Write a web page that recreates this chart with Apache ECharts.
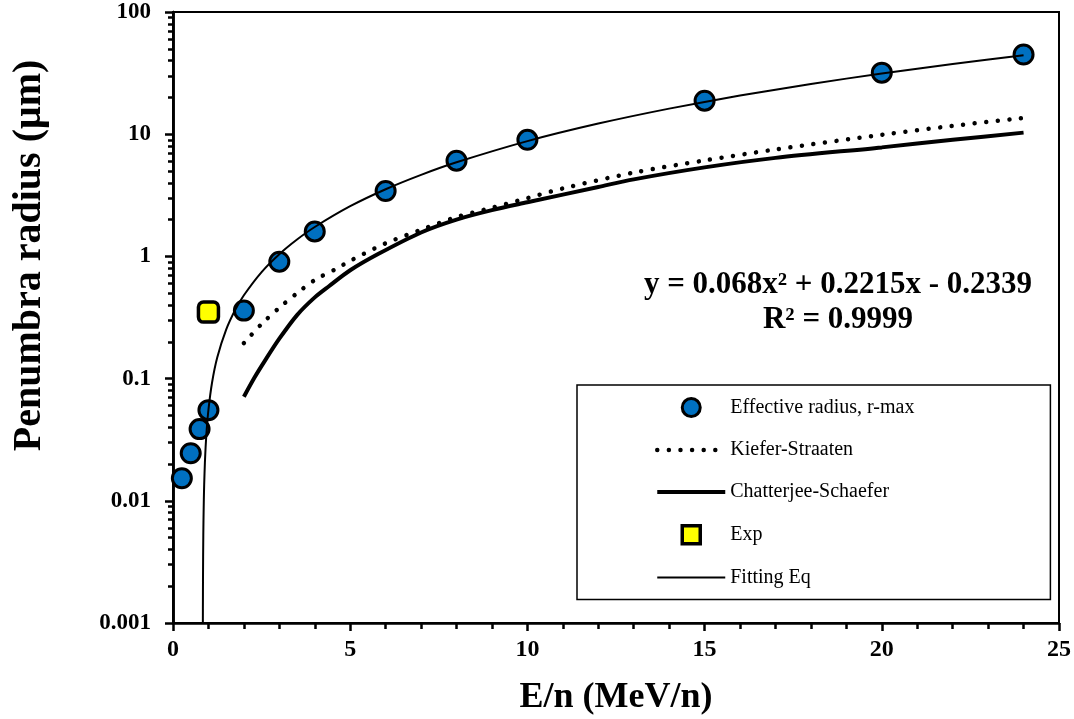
<!DOCTYPE html>
<html>
<head>
<meta charset="utf-8">
<script src="https://cdn.jsdelivr.net/npm/echarts@6/dist/echarts.min.js"></script>
<style>
  html, body { margin: 0; padding: 0; background: #fff; }
  #chart { width: 1074px; height: 719px; }
</style>
</head>
<body>
<div id="chart"></div>
<script>
// Effective radius (r-max) versus energy per nucleon
const effX = [0.25, 0.5, 0.75, 1, 2, 3, 4, 6, 8, 10, 15, 20, 24];
const effY = [0.0153, 0.0245, 0.0386, 0.0552, 0.36, 0.905, 1.6, 3.43, 6.07, 9.0, 18.8, 31.9, 44.9];

// Kiefer-Straaten penumbra radius
const ksX = [2, 2.5, 3, 3.5, 4, 4.6, 5, 6, 7, 8, 9, 10, 11, 13, 15, 17, 20, 22, 24];
const ksY = [0.195, 0.28, 0.38, 0.5, 0.64, 0.79, 0.92, 1.28, 1.65, 2.1, 2.5, 3.0, 3.6, 4.85, 6.1, 7.5, 9.9, 11.7, 13.6];

// Chatterjee-Schaefer penumbra radius
const csX = [2, 2.3, 2.6, 3, 3.5, 4, 4.4, 5, 5.8, 7, 8, 9, 10, 12, 13, 15, 17, 20, 22, 24];
const csY = [0.071, 0.102, 0.141, 0.212, 0.331, 0.462, 0.57, 0.77, 1.05, 1.57, 2.0, 2.39, 2.77, 3.7, 4.27, 5.35, 6.4, 7.8, 9.0, 10.3];

// Experimental point
const expX = [1];
const expY = [0.35];

// Quadratic trendline y = a x^2 + b x + c, sampled from its root upward
const fitCoefficients = [0.068, 0.2215, -0.2339];
const fitR2 = '0.9999';
const fitX = [0.8426, 0.843, 0.844, 0.846, 0.85, 0.855, 0.86, 0.87, 0.88, 0.9, 0.92, 0.95, 1, 1.1, 1.25, 1.5, 1.75, 2, 2.5, 3, 3.5, 4, 5, 6, 7, 8, 10, 12, 14, 16, 18, 20, 22, 24];

// Axis tick values
const xTicks = [0, 5, 10, 15, 20, 25];
const yTickLabels = ['0.001', '0.01', '0.1', '1', '10', '100'];

const pairs = (xs, ys) => xs.map((x, i) => [x, ys[i]]);
const fitY = fitX.map(x => fitCoefficients[0] * x * x + fitCoefficients[1] * x + fitCoefficients[2]);

// minor ticks at 1..9 of every decade
const yMinorTicks = [];
for (let e = -3; e < 2; e++) {
  for (let m = 1; m <= 9; m++) yMinorTicks.push(+(m * Math.pow(10, e)).toPrecision(3));
}
yMinorTicks.push(100);
const yMajorTicks = yTickLabels.map(Number);

const serif = '"Liberation Serif", "Times New Roman", serif';
const eqText = 'y = ' + fitCoefficients[0] + 'x² + ' + fitCoefficients[1] + 'x - ' +
  Math.abs(fitCoefficients[2]) + '\nR² = ' + fitR2;

const chart = echarts.init(document.getElementById('chart'), null, { renderer: 'canvas' });

const yBase = {
  type: 'log', logBase: 10, min: 0.001, max: 100,
  splitLine: { show: false },
  axisLine: { show: true, onZero: false, lineStyle: { color: '#000', width: 2.5 } }
};

const squareIcon = 'path://M0 0L10 0L10 10L0 10Z';

chart.setOption({
  animation: false,
  backgroundColor: '#fff',
  grid: {
    left: 173, right: 15, top: 12, bottom: 96,
    show: true, borderColor: '#000', borderWidth: 2,
    containLabel: false, outerBoundsMode: 'none'
  },
  title: {
    text: eqText,
    left: 833, top: 262, textAlign: 'center',
    textStyle: { fontFamily: serif, fontWeight: 'bold', fontSize: 31, lineHeight: 35, color: '#000', align: 'center' }
  },
  legend: {
    orient: 'vertical', left: 577, top: 385,
    padding: [12, 136, 12, 78],
    borderColor: '#000', borderWidth: 1.5,
    itemWidth: 68, itemHeight: 18, itemGap: 22,
    textStyle: { fontFamily: serif, fontSize: 20, color: '#000' },
    data: [
      { name: 'Effective radius, r-max',
        itemStyle: { color: '#0070C0', borderColor: '#000', borderWidth: 3, opacity: 1 } },
      { name: 'Kiefer-Straaten', itemStyle: { opacity: 0 },
        lineStyle: { color: '#000', width: 4.5, type: [0.01, 11.6], cap: 'round' } },
      { name: 'Chatterjee-Schaefer', itemStyle: { opacity: 0 },
        lineStyle: { color: '#000', width: 4 } },
      { name: 'Exp', icon: squareIcon,
        itemStyle: { color: '#FFFF00', borderColor: '#000', borderWidth: 3.5, opacity: 1 } },
      { name: 'Fitting Eq', itemStyle: { opacity: 0 },
        lineStyle: { color: '#000', width: 2 } }
    ]
  },
  xAxis: {
    type: 'value', min: 0, max: 25, interval: 5,
    name: 'E/n (MeV/n)', nameLocation: 'middle', nameGap: 57,
    nameTextStyle: { fontFamily: serif, fontWeight: 'bold', fontSize: 36, color: '#000' },
    splitLine: { show: false },
    axisLine: { show: true, onZero: false, lineStyle: { color: '#000', width: 2.5 } },
    axisTick: { show: true, inside: false, length: 8, lineStyle: { color: '#000', width: 2.5 } },
    minorTick: { show: true, splitNumber: 5, length: 6, lineStyle: { color: '#000', width: 2.5 } },
    axisLabel: { margin: 15, fontFamily: serif, fontWeight: 'bold', fontSize: 24, color: '#000',
      customValues: xTicks }
  },
  yAxis: [
    Object.assign({}, yBase, {
      name: 'Penumbra radius (μm)', nameLocation: 'middle', nameGap: 123, nameRotate: 90,
      nameTextStyle: { fontFamily: serif, fontWeight: 'bold', fontSize: 40, color: '#000', padding: [0, 0, 0, 124] },
      axisTick: { show: true, length: 8, lineStyle: { color: '#000', width: 2.5 }, customValues: yMajorTicks },
      axisLabel: { margin: 22, fontFamily: serif, fontWeight: 'bold', fontSize: 23, color: '#000',
        customValues: yMajorTicks, formatter: v => yTickLabels[yMajorTicks.indexOf(+(+v).toPrecision(3))] || String(v) }
    }),
    Object.assign({}, yBase, {
      position: 'left',
      axisTick: { show: true, length: 5, lineStyle: { color: '#000', width: 2.5 }, customValues: yMinorTicks },
      axisLabel: { show: false }
    })
  ],
  series: [
    {
      name: 'Effective radius, r-max', type: 'scatter', z: 3,
      data: pairs(effX, effY),
      symbol: 'circle', symbolSize: 19,
      itemStyle: { color: '#0070C0', borderColor: '#000', borderWidth: 3, opacity: 1 }
    },
    {
      name: 'Kiefer-Straaten', type: 'line', z: 2, smooth: 0.3,
      data: pairs(ksX, ksY), symbol: 'none',
      lineStyle: { color: '#000', width: 4.5, type: [0.01, 11.6], cap: 'round' },
      itemStyle: { color: '#000' }
    },
    {
      name: 'Chatterjee-Schaefer', type: 'line', z: 2, smooth: 0.3,
      data: pairs(csX, csY), symbol: 'none',
      lineStyle: { color: '#000', width: 4 },
      itemStyle: { color: '#000' }
    },
    {
      name: 'Exp', type: 'scatter', z: 3,
      data: pairs(expX, expY),
      symbol: 'roundRect', symbolSize: 20,
      itemStyle: { color: '#FFFF00', borderColor: '#000', borderWidth: 3.5, opacity: 1 }
    },
    {
      name: 'Fitting Eq', type: 'line', z: 4, smooth: 0.2,
      data: pairs(fitX, fitY), symbol: 'none',
      lineStyle: { color: '#000', width: 2 },
      itemStyle: { color: '#000' }
    }
  ]
});
</script>
</body>
</html>
